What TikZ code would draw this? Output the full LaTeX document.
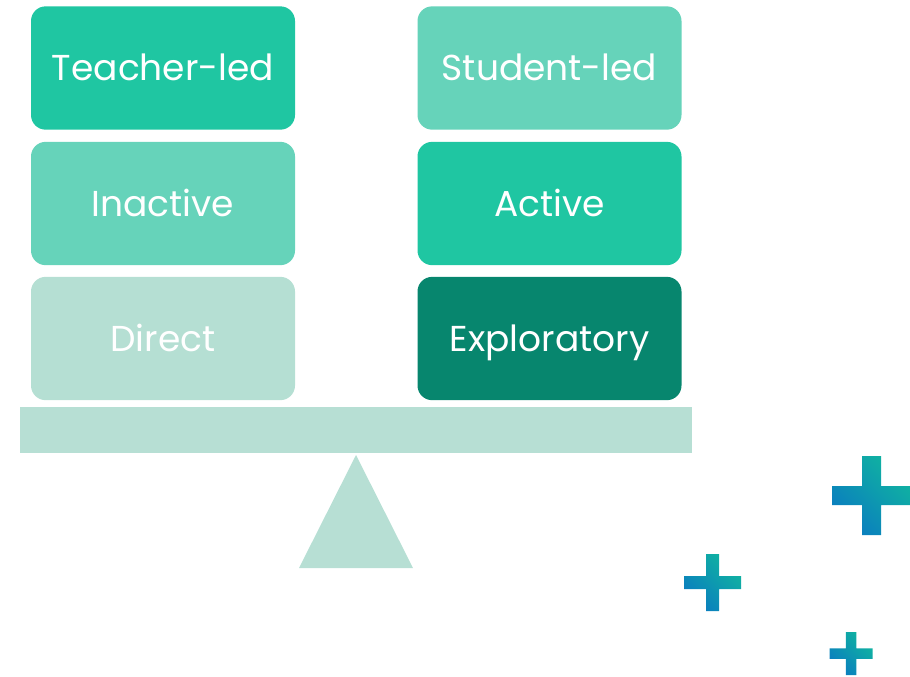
\documentclass[tikz,border=0pt]{standalone}
\usepackage{fontspec}
\setmainfont{Poppins}

\definecolor{tealmid}{RGB}{31,198,162}
\definecolor{teallight}{RGB}{102,211,186}
\definecolor{tealpale}{RGB}{181,223,211}
\definecolor{tealdark}{RGB}{7,134,110}
\definecolor{scalegrey}{RGB}{183,223,212}
\definecolor{plusteal}{RGB}{16,180,160}
\definecolor{plusblue}{RGB}{10,124,192}

% plus sign: centre x, centre y, arm length, bar thickness
\newcommand{\plussign}[4]{%
  \shade[top color=plusteal, bottom color=plusblue, shading angle=-45]
    (#1-#4/2,#2-#3/2) -- (#1+#4/2,#2-#3/2) -- (#1+#4/2,#2-#4/2) -- (#1+#3/2,#2-#4/2)
    -- (#1+#3/2,#2+#4/2) -- (#1+#4/2,#2+#4/2) -- (#1+#4/2,#2+#3/2) -- (#1-#4/2,#2+#3/2)
    -- (#1-#4/2,#2+#4/2) -- (#1-#3/2,#2+#4/2) -- (#1-#3/2,#2-#4/2) -- (#1-#4/2,#2-#4/2) -- cycle;}

\begin{document}
\begin{tikzpicture}[x=0.75pt,y=0.75pt,yscale=-1,xscale=1,
  block/.style={rounded corners=11pt, minimum width=198pt, minimum height=92.5pt,
    text=white, font=\fontsize{27}{32}\selectfont, inner sep=0pt,
    text height=19pt, text depth=0pt}]
\useasboundingbox (0,0) rectangle (910,676);

% Left stack
\node[block, fill=tealmid]   (teacher)  at (163,68)    {Teacher-led};
\node[block, fill=teallight] (inactive) at (163,203.5) {Inactive};
\node[block, fill=tealpale]  (direct)   at (163,338.5) {Direct};

% Right stack
\node[block, fill=teallight] (student)  at (549.5,68)    {Student-led};
\node[block, fill=tealmid]   (active)   at (549.5,203.5) {Active};
\node[block, fill=tealdark]  (explore)  at (549.5,338.5) {Exploratory};

% Beam and pivot
\fill[scalegrey] (20,407) rectangle (692,453);
\fill[scalegrey] (356,455) -- (413,568) -- (299,568) -- cycle;

% Plus signs
\plussign{871.5}{495.5}{79}{19}
\plussign{712.5}{582.5}{57}{13}
\plussign{851}{653.5}{43}{10.5}

\end{tikzpicture}
\end{document}
